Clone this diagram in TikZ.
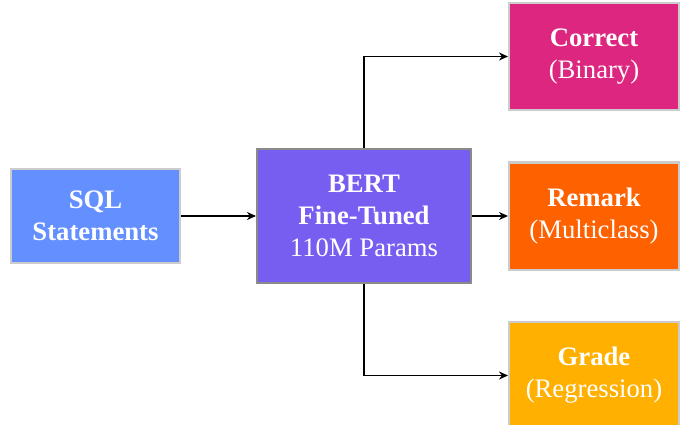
\documentclass[tikz,border=0pt]{standalone}
\usepackage{fontspec}
\setmainfont{Liberation Serif}
\usetikzlibrary{arrows.meta}
\definecolor{cblue}{HTML}{648FFF}
\definecolor{cpurple}{HTML}{785EF0}
\definecolor{cpink}{HTML}{DC267F}
\definecolor{corange}{HTML}{FE6100}
\definecolor{cyellow}{HTML}{FFB000}
\definecolor{lgray}{HTML}{CCCCCC}
\definecolor{dgray}{HTML}{8A8A8A}
\tikzset{
  box/.style={rectangle, draw=lgray, line width=2pt, text=white, align=center,
    font=\fontsize{26.7}{32}\selectfont, inner sep=0pt},
  outbox/.style={box, minimum width=170pt, minimum height=107pt},
  arr/.style={-{Stealth[length=9pt,width=8pt]}, line width=1.8pt, black}
}
\begin{document}
\begin{tikzpicture}[x=1pt,y=-1pt]
\useasboundingbox (0,0) rectangle (688,425);
\clip (0,0) rectangle (688,425);
\node[box, fill=cblue, minimum width=169pt, minimum height=94pt] (sql) at (95.5,216) {\textbf{SQL}\\\textbf{Statements}};
\node[box, fill=cpurple, draw=dgray, minimum width=214pt, minimum height=134pt] (bert) at (364,216) {\textbf{BERT}\\\textbf{Fine-Tuned}\\110M Params};
\node[outbox, fill=cpink] (correct) at (594,56.5) {\textbf{Correct}\\(Binary)};
\node[outbox, fill=corange] (remark) at (594,216) {\textbf{Remark}\\(Multiclass)};
\node[outbox, fill=cyellow] (grade) at (594,375.5) {\textbf{Grade}\\(Regression)};
\draw[arr] (sql.east) -- (bert.west);
\draw[arr] (bert.east) -- (remark.west);
\draw[arr] (bert.north) |- (correct.west);
\draw[arr] (bert.south) |- (grade.west);
\end{tikzpicture}
\end{document}
